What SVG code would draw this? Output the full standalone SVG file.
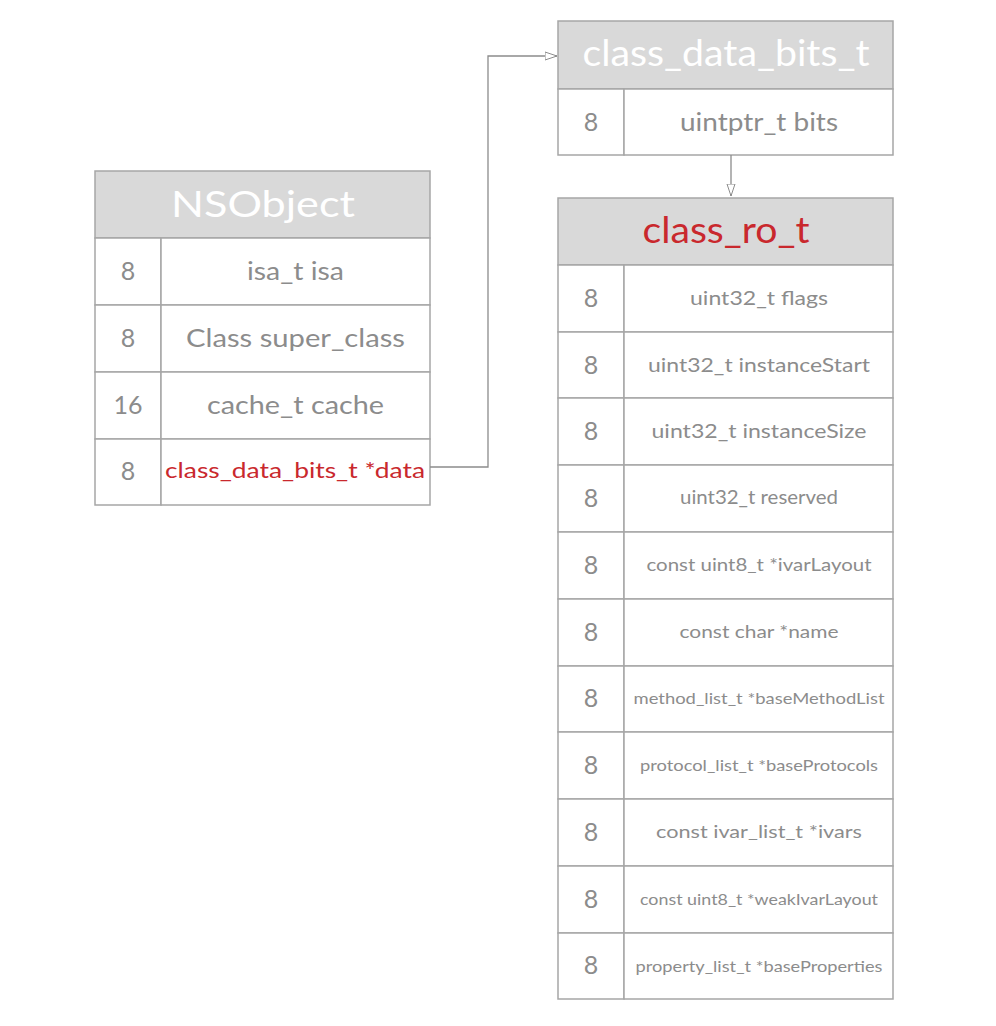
<svg xmlns="http://www.w3.org/2000/svg" width="996" height="1026" viewBox="0 0 996 1026">
<style>
.hdr{fill:#d9d9d9;stroke:#a6a6a6;stroke-width:1.5}
.cell{fill:#ffffff;stroke:#a6a6a6;stroke-width:1.5}
.t{font-family:Lato,"Noto Sans","Liberation Sans",sans-serif;fill:#8c8c8c;text-anchor:middle}
.ht{font-family:Lato,"Noto Sans","Liberation Sans",sans-serif;fill:#ffffff;text-anchor:middle;font-size:36px}
.red{fill:#c9282d}
.num{font-size:25px}
.conn{fill:none;stroke:#8c8c8c;stroke-width:1.3}
</style>
<defs>
<marker id="tri" viewBox="0 0 12 10" refX="12" refY="5" markerWidth="12" markerHeight="10" markerUnits="userSpaceOnUse" orient="auto">
<path d="M0,1 L12,5 L0,9 Z" fill="#ffffff" stroke="#8c8c8c" stroke-width="1"/>
</marker>
</defs>
<rect width="996" height="1026" fill="#ffffff"/>

<g id="NSObject">
<rect class="hdr" x="95" y="171" width="335" height="67"/>
<text class="ht" x="263" y="217" textLength="184" lengthAdjust="spacingAndGlyphs">NSObject</text>
<rect class="cell" x="95" y="238" width="66" height="67"/><rect class="cell" x="161" y="238" width="269" height="67"/>
<rect class="cell" x="95" y="305" width="66" height="67"/><rect class="cell" x="161" y="305" width="269" height="67"/>
<rect class="cell" x="95" y="372" width="66" height="67"/><rect class="cell" x="161" y="372" width="269" height="67"/>
<rect class="cell" x="95" y="439" width="66" height="66"/><rect class="cell" x="161" y="439" width="269" height="66"/>
<text class="t num" x="128" y="280">8</text>
<text class="t num" x="128" y="347">8</text>
<text class="t num" x="128" y="414">16</text>
<text class="t num" x="128" y="480">8</text>
<text class="t" x="295.5" y="280" font-size="25" textLength="97" lengthAdjust="spacingAndGlyphs">isa_t isa</text>
<text class="t" x="295.5" y="347" font-size="25" textLength="219" lengthAdjust="spacingAndGlyphs">Class super_class</text>
<text class="t" x="295.5" y="414" font-size="25" textLength="177" lengthAdjust="spacingAndGlyphs">cache_t cache</text>
<text class="t red" x="295" y="478" font-size="22" textLength="260" lengthAdjust="spacingAndGlyphs">class_data_bits_t *data</text>
</g>

<g id="class_data_bits_t">
<rect class="hdr" x="558" y="21" width="335" height="68"/>
<text class="ht" x="726" y="66" font-size="34" textLength="287" lengthAdjust="spacingAndGlyphs">class_data_bits_t</text>
<rect class="cell" x="558" y="89" width="66" height="66"/><rect class="cell" x="624" y="89" width="269" height="66"/>
<text class="t num" x="591" y="131">8</text>
<text class="t" x="759" y="131" font-size="25" textLength="158" lengthAdjust="spacingAndGlyphs">uintptr_t bits</text>
</g>

<g id="class_ro_t">
<rect class="hdr" x="558" y="198" width="335" height="67"/>
<text class="ht red" x="726" y="243" font-size="34" textLength="167" lengthAdjust="spacingAndGlyphs">class_ro_t</text>
<g>
<rect class="cell" x="558" y="265" width="66" height="67"/><rect class="cell" x="624" y="265" width="269" height="67"/>
<rect class="cell" x="558" y="332" width="66" height="66"/><rect class="cell" x="624" y="332" width="269" height="66"/>
<rect class="cell" x="558" y="398" width="66" height="67"/><rect class="cell" x="624" y="398" width="269" height="67"/>
<rect class="cell" x="558" y="465" width="66" height="67"/><rect class="cell" x="624" y="465" width="269" height="67"/>
<rect class="cell" x="558" y="532" width="66" height="67"/><rect class="cell" x="624" y="532" width="269" height="67"/>
<rect class="cell" x="558" y="599" width="66" height="67"/><rect class="cell" x="624" y="599" width="269" height="67"/>
<rect class="cell" x="558" y="666" width="66" height="66"/><rect class="cell" x="624" y="666" width="269" height="66"/>
<rect class="cell" x="558" y="732" width="66" height="67"/><rect class="cell" x="624" y="732" width="269" height="67"/>
<rect class="cell" x="558" y="799" width="66" height="67"/><rect class="cell" x="624" y="799" width="269" height="67"/>
<rect class="cell" x="558" y="866" width="66" height="67"/><rect class="cell" x="624" y="866" width="269" height="67"/>
<rect class="cell" x="558" y="933" width="66" height="66"/><rect class="cell" x="624" y="933" width="269" height="66"/>
</g>
<text class="t num" x="591" y="307">8</text>
<text class="t num" x="591" y="374">8</text>
<text class="t num" x="591" y="440">8</text>
<text class="t num" x="591" y="507">8</text>
<text class="t num" x="591" y="574">8</text>
<text class="t num" x="591" y="641">8</text>
<text class="t num" x="591" y="707">8</text>
<text class="t num" x="591" y="774">8</text>
<text class="t num" x="591" y="841">8</text>
<text class="t num" x="591" y="908">8</text>
<text class="t num" x="591" y="974">8</text>
<text class="t" x="759" y="305" font-size="20" textLength="138" lengthAdjust="spacingAndGlyphs">uint32_t flags</text>
<text class="t" x="759" y="372" font-size="20" textLength="222" lengthAdjust="spacingAndGlyphs">uint32_t instanceStart</text>
<text class="t" x="759" y="438" font-size="20" textLength="215" lengthAdjust="spacingAndGlyphs">uint32_t instanceSize</text>
<text class="t" x="759" y="504" font-size="19" textLength="158" lengthAdjust="spacingAndGlyphs">uint32_t reserved</text>
<text class="t" x="759" y="571" font-size="18" textLength="225" lengthAdjust="spacingAndGlyphs">const uint8_t *ivarLayout</text>
<text class="t" x="759" y="638" font-size="18" textLength="159" lengthAdjust="spacingAndGlyphs">const char *name</text>
<text class="t" x="759" y="704" font-size="16" textLength="251" lengthAdjust="spacingAndGlyphs">method_list_t *baseMethodList</text>
<text class="t" x="759" y="771" font-size="16" textLength="238" lengthAdjust="spacingAndGlyphs">protocol_list_t *baseProtocols</text>
<text class="t" x="759" y="838" font-size="18" textLength="206" lengthAdjust="spacingAndGlyphs">const ivar_list_t *ivars</text>
<text class="t" x="759" y="905" font-size="16" textLength="238" lengthAdjust="spacingAndGlyphs">const uint8_t *weakIvarLayout</text>
<text class="t" x="759" y="972" font-size="16" textLength="247" lengthAdjust="spacingAndGlyphs">property_list_t *baseProperties</text>
</g>

<g id="connectors">
<path class="conn" d="M430,467 H488 V56 H557" marker-end="url(#tri)"/>
<path class="conn" d="M731,155 V196" marker-end="url(#tri)"/>
</g>
</svg>
